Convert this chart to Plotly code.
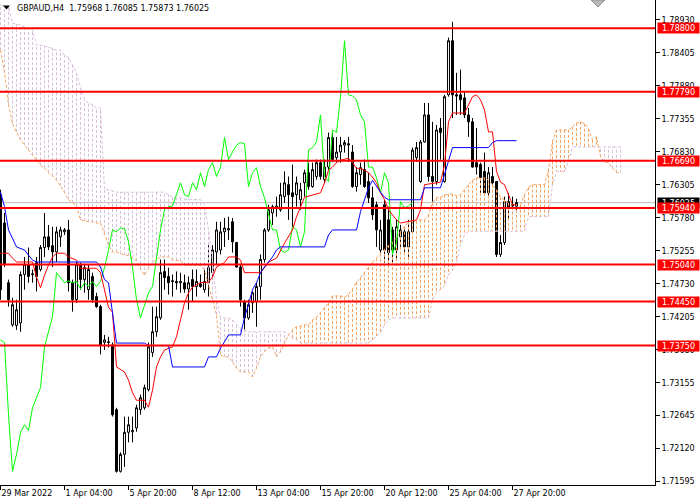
import plotly.graph_objects as go

# GBPAUD H4, bar 0 = 29 Mar 2022 (4 px per bar on the original chart)
opens = [1.7615, 1.7570, 1.7475, 1.7408, 1.7407, 1.7411, 1.7488, 1.7504, 1.7488, 1.7507,
         1.7496, 1.7531, 1.7548, 1.7534, 1.7524, 1.7548, 1.7556, 1.7559, 1.7475, 1.7448,
         1.7504, 1.7480, 1.7464, 1.7485, 1.7453, 1.7437, 1.7380, 1.7381, 1.7376, 1.7273,
         1.7175, 1.7202, 1.7237, 1.7238, 1.7244, 1.7273, 1.7276, 1.7305, 1.7364, 1.7397,
         1.7419, 1.7493, 1.7485, 1.7477, 1.7477, 1.7475, 1.7475, 1.7465, 1.7480, 1.7469,
         1.7473, 1.7464, 1.7475, 1.7491, 1.7524, 1.7527, 1.7556, 1.7559, 1.7572, 1.7539,
         1.7500, 1.7445, 1.7419, 1.7443, 1.7445, 1.7469, 1.7512, 1.7559, 1.7586, 1.7594,
         1.7591, 1.7612, 1.7631, 1.7618, 1.7615, 1.7607, 1.7634, 1.7650, 1.7628, 1.7644,
         1.7666, 1.7639, 1.7659, 1.7706, 1.7674, 1.7683, 1.7694, 1.7694, 1.7683, 1.7628,
         1.7647, 1.7655, 1.7636, 1.7610, 1.7599, 1.7527, 1.7599, 1.7575, 1.7559, 1.7527,
         1.7548, 1.7556, 1.7532, 1.7556, 1.7674, 1.7636, 1.7699, 1.7742, 1.7644, 1.7636,
         1.7721, 1.7636, 1.7774, 1.7860, 1.7774, 1.7774, 1.7769, 1.7742, 1.7731, 1.7666,
         1.7663, 1.7652, 1.7618, 1.7644, 1.7636, 1.7520, 1.7539, 1.7604, 1.7599, 1.75968]
highs = [1.7623, 1.7586, 1.7480, 1.7451, 1.7448, 1.7493, 1.7516, 1.7531, 1.7496, 1.7516,
         1.7535, 1.7586, 1.7567, 1.7564, 1.7564, 1.7564, 1.7562, 1.7575, 1.7480, 1.7508,
         1.7507, 1.7504, 1.7504, 1.7491, 1.7459, 1.7440, 1.7392, 1.7389, 1.7380, 1.7276,
         1.7205, 1.7262, 1.7262, 1.7262, 1.7281, 1.7297, 1.7313, 1.7380, 1.7437, 1.7437,
         1.7512, 1.7512, 1.7499, 1.7488, 1.7493, 1.7491, 1.7488, 1.7485, 1.7496, 1.7496,
         1.7488, 1.7499, 1.7535, 1.7535, 1.7572, 1.7572, 1.7578, 1.7580, 1.7578, 1.7540,
         1.7504, 1.7448, 1.7448, 1.7461, 1.7475, 1.7520, 1.7562, 1.7599, 1.7599, 1.7612,
         1.7634, 1.7652, 1.7644, 1.7663, 1.7644, 1.7634, 1.7655, 1.7666, 1.7666, 1.7671,
         1.7671, 1.7671, 1.7714, 1.7714, 1.7707, 1.7707, 1.7702, 1.7707, 1.7694, 1.7659,
         1.7666, 1.7671, 1.7650, 1.7628, 1.7604, 1.7575, 1.7607, 1.7596, 1.7564, 1.7575,
         1.7567, 1.7564, 1.7575, 1.7690, 1.7699, 1.7702, 1.7761, 1.7761, 1.7731, 1.7726,
         1.7737, 1.7774, 1.7865, 1.7890, 1.7809, 1.7814, 1.7779, 1.7753, 1.7737, 1.7721,
         1.7666, 1.7682, 1.7659, 1.7659, 1.7636, 1.7551, 1.7612, 1.7618, 1.7612, 1.76085]
lows = [1.7448, 1.7500, 1.7437, 1.7405, 1.7400, 1.7397, 1.7464, 1.7475, 1.7475, 1.7461,
        1.7493, 1.7516, 1.7527, 1.7500, 1.7508, 1.7532, 1.7551, 1.7461, 1.7429, 1.7443,
        1.7464, 1.7459, 1.7448, 1.7443, 1.7435, 1.7361, 1.7368, 1.7372, 1.7262, 1.7173,
        1.7173, 1.7182, 1.7221, 1.7221, 1.7238, 1.7265, 1.7273, 1.7302, 1.7357, 1.7389,
        1.7416, 1.7464, 1.7456, 1.7453, 1.7464, 1.7459, 1.7459, 1.7432, 1.7445, 1.7453,
        1.7467, 1.7459, 1.7453, 1.7480, 1.7504, 1.7520, 1.7532, 1.7543, 1.7523, 1.7499,
        1.7437, 1.7397, 1.7416, 1.7427, 1.7405, 1.7448, 1.7507, 1.7556, 1.7567, 1.7580,
        1.7588, 1.7602, 1.7575, 1.7564, 1.7596, 1.7591, 1.7612, 1.7623, 1.7626, 1.7639,
        1.7639, 1.7634, 1.7655, 1.7667, 1.7666, 1.7666, 1.7682, 1.7667, 1.7626, 1.7620,
        1.7631, 1.7626, 1.7602, 1.7575, 1.7532, 1.7523, 1.7507, 1.7504, 1.7507, 1.7512,
        1.7532, 1.7523, 1.7512, 1.7555, 1.7667, 1.7634, 1.7698, 1.7636, 1.7604, 1.7631,
        1.7671, 1.7634, 1.7771, 1.7737, 1.7742, 1.7742, 1.7737, 1.7707, 1.7658, 1.7647,
        1.7618, 1.7615, 1.7610, 1.7631, 1.7516, 1.7516, 1.7535, 1.7578, 1.7594, 1.75873]
closes = [1.7464, 1.7504, 1.7448, 1.7440, 1.7432, 1.7488, 1.7504, 1.7485, 1.7489, 1.7485,
          1.7531, 1.7548, 1.7532, 1.7524, 1.7556, 1.7559, 1.7559, 1.7475, 1.7448, 1.7504,
          1.7480, 1.7499, 1.7496, 1.7448, 1.7437, 1.7376, 1.7384, 1.7380, 1.7265, 1.7175,
          1.7202, 1.7237, 1.7249, 1.7240, 1.7276, 1.7292, 1.7308, 1.7373, 1.7397, 1.7421,
          1.7491, 1.7483, 1.7475, 1.7478, 1.7475, 1.7477, 1.7465, 1.7475, 1.7469, 1.7477,
          1.7469, 1.7477, 1.7499, 1.7527, 1.7559, 1.7556, 1.7562, 1.7561, 1.7540, 1.7500,
          1.7448, 1.7419, 1.7440, 1.7459, 1.7469, 1.7512, 1.7559, 1.7591, 1.7596, 1.7597,
          1.7615, 1.7634, 1.7615, 1.7612, 1.7634, 1.7623, 1.7650, 1.7628, 1.7655, 1.7666,
          1.7644, 1.7659, 1.7706, 1.7671, 1.7683, 1.7694, 1.7698, 1.7696, 1.7628, 1.7650,
          1.7658, 1.7628, 1.7610, 1.7583, 1.7559, 1.7559, 1.7527, 1.7523, 1.7527, 1.7564,
          1.7559, 1.7532, 1.7556, 1.7686, 1.7690, 1.7699, 1.7742, 1.7644, 1.7636, 1.7718,
          1.7714, 1.7771, 1.7860, 1.7774, 1.7772, 1.7766, 1.7742, 1.7731, 1.7659, 1.7659,
          1.7642, 1.7618, 1.7650, 1.7634, 1.7520, 1.7539, 1.7604, 1.7594, 1.7597, 1.76025]

# Ichimoku lines
tenkan_x = [0, 2, 3, 4, 8, 9, 10, 11, 12, 13, 14, 16, 17, 19, 20, 24, 25, 26, 27, 28,
            29, 31, 32, 33, 34, 36, 37, 38, 39, 40, 41, 43, 44, 45, 46, 47, 48, 50, 52, 53,
            54, 56, 57, 59, 60, 61, 65, 67, 69, 71, 72, 73, 74, 75, 76, 80, 81, 82, 83, 84,
            85, 87, 88, 89, 90, 91, 92, 93, 94, 95, 96, 97, 98, 99, 100, 102, 104, 105, 106, 110,
            111, 112, 113, 116, 117, 118, 119, 120, 121, 122, 123, 124, 125, 126, 127, 128, 129]
tenkan_y = [1.7522, 1.7522, 1.7514, 1.7508, 1.7508, 1.7484, 1.7467, 1.7487, 1.7503, 1.7516,
            1.7522, 1.7522, 1.7516, 1.7511, 1.7498, 1.7498, 1.7491, 1.7464, 1.7436, 1.7428,
            1.7341, 1.7333, 1.7320, 1.7300, 1.7288, 1.7288, 1.7277, 1.7304, 1.7341, 1.7357,
            1.7368, 1.7373, 1.7389, 1.7416, 1.7443, 1.7459, 1.7468, 1.7475, 1.7476, 1.7484,
            1.7500, 1.7507, 1.7516, 1.7516, 1.7511, 1.7491, 1.7491, 1.7508, 1.7514, 1.7538,
            1.7548, 1.7559, 1.7580, 1.7596, 1.7611, 1.7618, 1.7634, 1.7654, 1.7659, 1.7666,
            1.7670, 1.7673, 1.7666, 1.7657, 1.7657, 1.7654, 1.7650, 1.7643, 1.7634, 1.7618,
            1.7607, 1.7591, 1.7583, 1.7575, 1.7570, 1.7572, 1.7575, 1.7591, 1.7631, 1.7635,
            1.7662, 1.7731, 1.7745, 1.7745, 1.7758, 1.7771, 1.7774, 1.7766, 1.7750, 1.7715,
            1.7715, 1.7652, 1.7635, 1.7631, 1.7615, 1.7599, 1.7599]
kijun_x = [0, 1, 2, 4, 6, 8, 9, 24, 25, 26, 27, 28, 29, 36, 37, 42, 43, 51, 52, 54,
           55, 56, 57, 60, 61, 62, 63, 64, 65, 66, 67, 68, 69, 70, 81, 82, 83, 89, 90, 91,
           92, 93, 94, 95, 96, 97, 105, 106, 110, 111, 112, 113, 122, 123, 124, 129]
kijun_y = [1.7619, 1.7596, 1.7559, 1.7532, 1.7527, 1.7511, 1.7508, 1.7508, 1.7500, 1.7480,
           1.7475, 1.7424, 1.7379, 1.7379, 1.7375, 1.7375, 1.7341, 1.7341, 1.7357, 1.7357,
           1.7371, 1.7381, 1.7392, 1.7392, 1.7420, 1.7440, 1.7464, 1.7475, 1.7491, 1.7500,
           1.7508, 1.7516, 1.7527, 1.7532, 1.7532, 1.7551, 1.7559, 1.7559, 1.7588, 1.7607,
           1.7626, 1.7638, 1.7628, 1.7619, 1.7611, 1.7607, 1.7607, 1.7626, 1.7626, 1.7647,
           1.7670, 1.7690, 1.7690, 1.7698, 1.7701, 1.7701]

# Senkou span A / B, one value per bar (bars 0..155, cloud runs 26 bars ahead)
span_a = [1.7845, 1.7810, 1.7758, 1.7728, 1.7715, 1.7702, 1.7694, 1.7686, 1.7678, 1.7670,
          1.7662, 1.7657, 1.7650, 1.7645, 1.7638, 1.7629, 1.7618, 1.7607, 1.7602, 1.7597,
          1.7575, 1.7573, 1.7572, 1.7572, 1.7570, 1.7570, 1.7554, 1.7535, 1.7524, 1.7524,
          1.7521, 1.7519, 1.7518, 1.7514, 1.7510, 1.7497, 1.7487, 1.7498, 1.7507, 1.7511,
          1.7516, 1.7516, 1.7516, 1.7511, 1.7511, 1.7510, 1.7503, 1.7503, 1.7503, 1.7503,
          1.7503, 1.7495, 1.7471, 1.7448, 1.7424, 1.7360, 1.7357, 1.7357, 1.7349, 1.7339,
          1.7333, 1.7333, 1.7333, 1.7325, 1.7339, 1.7357, 1.7365, 1.7371, 1.7373, 1.7357,
          1.7365, 1.7379, 1.7392, 1.7400, 1.7405, 1.7406, 1.7408, 1.7408, 1.7416, 1.7420,
          1.7428, 1.7436, 1.7443, 1.7454, 1.7454, 1.7454, 1.7452, 1.7456, 1.7465, 1.7476,
          1.7483, 1.7491, 1.7500, 1.7508, 1.7514, 1.7521, 1.7529, 1.7535, 1.7540, 1.7546,
          1.7556, 1.7564, 1.7572, 1.7573, 1.7573, 1.7575, 1.7575, 1.7583, 1.7602, 1.7610,
          1.7611, 1.7615, 1.7616, 1.7616, 1.7613, 1.7615, 1.7623, 1.7631, 1.7638, 1.7642,
          1.7642, 1.7642, 1.7638, 1.7631, 1.7623, 1.7611, 1.7607, 1.7602, 1.7596, 1.7591,
          1.7599, 1.7615, 1.7627, 1.7631, 1.7631, 1.7631, 1.7631, 1.7654, 1.7700, 1.7718,
          1.7718, 1.7718, 1.7718, 1.7723, 1.7729, 1.7731, 1.7728, 1.7720, 1.7702, 1.7707,
          1.7675, 1.7667, 1.7666, 1.7657, 1.7650, 1.7650]
span_b = [1.7917, 1.7915, 1.7914, 1.7888, 1.7887, 1.7885, 1.7882, 1.7880, 1.7877, 1.7853,
          1.7853, 1.7852, 1.7850, 1.7848, 1.7845, 1.7845, 1.7837, 1.7833, 1.7821, 1.7809,
          1.7785, 1.7766, 1.7761, 1.7758, 1.7753, 1.7753, 1.7623, 1.7623, 1.7621, 1.7619,
          1.7619, 1.7619, 1.7619, 1.7619, 1.7619, 1.7619, 1.7619, 1.7619, 1.7619, 1.7619,
          1.7619, 1.7619, 1.7615, 1.7611, 1.7610, 1.7610, 1.7608, 1.7608, 1.7607, 1.7607,
          1.7607, 1.7599, 1.7559, 1.7511, 1.7448, 1.7419, 1.7419, 1.7419, 1.7416, 1.7408,
          1.7403, 1.7400, 1.7397, 1.7397, 1.7397, 1.7397, 1.7397, 1.7397, 1.7397, 1.7397,
          1.7397, 1.7397, 1.7392, 1.7387, 1.7384, 1.7379, 1.7379, 1.7379, 1.7379, 1.7379,
          1.7379, 1.7379, 1.7379, 1.7379, 1.7379, 1.7379, 1.7379, 1.7379, 1.7379, 1.7379,
          1.7379, 1.7379, 1.7379, 1.7384, 1.7389, 1.7395, 1.7408, 1.7416, 1.7419, 1.7419,
          1.7419, 1.7419, 1.7419, 1.7419, 1.7419, 1.7419, 1.7419, 1.7419, 1.7448, 1.7460,
          1.7464, 1.7470, 1.7487, 1.7495, 1.7508, 1.7535, 1.7551, 1.7557, 1.7557, 1.7557,
          1.7557, 1.7557, 1.7557, 1.7557, 1.7557, 1.7557, 1.7557, 1.7557, 1.7557, 1.7557,
          1.7557, 1.7557, 1.7580, 1.7580, 1.7580, 1.7580, 1.7580, 1.7580, 1.7631, 1.7652,
          1.7652, 1.7652, 1.7669, 1.7691, 1.7691, 1.7691, 1.7691, 1.7691, 1.7691, 1.7691,
          1.7691, 1.7691, 1.7691, 1.7691, 1.7691, 1.7691]
chikou_shift = 26

levels = [1.78800, 1.77790, 1.76690, 1.75940, 1.75040, 1.74450, 1.73750]
bid = 1.76025
ytick_vals = [1.78930, 1.78405, 1.77880, 1.77355, 1.76830, 1.76305, 1.75780, 1.75255,
              1.74730, 1.74205, 1.73680, 1.73155, 1.72645, 1.72120, 1.71595]
xtick_pos = [0, 16, 32, 48, 64, 80, 96, 112, 128]
xtick_text = ["29 Mar 2022", "1 Apr 04:00", "5 Apr 20:00", "8 Apr 12:00", "13 Apr 04:00",
              "15 Apr 20:00", "20 Apr 12:00", "25 Apr 04:00", "27 Apr 20:00"]
header = "GBPAUD,H4  1.75968 1.76085 1.75873 1.76025"

FONT = "DejaVu Sans"
W_PLOT, H_PLOT = 655, 485

fig = go.Figure()

# cloud hatching: dotted vertical strokes between span A and span B on every bar
up_x, up_y, dn_x, dn_y = [], [], [], []
for j, (a, b) in enumerate(zip(span_a, span_b)):
    if a >= b:
        up_x += [j, j, None]
        up_y += [a, b, None]
    else:
        dn_x += [j, j, None]
        dn_y += [a, b, None]
fig.add_trace(go.Scatter(x=up_x, y=up_y, mode="lines", hoverinfo="skip",
                         line=dict(color="#F4A460", width=1, dash="3px,2px")))
fig.add_trace(go.Scatter(x=dn_x, y=dn_y, mode="lines", hoverinfo="skip",
                         line=dict(color="#D8BFD8", width=1, dash="3px,2px")))
bars = list(range(len(span_a)))
fig.add_trace(go.Scatter(x=bars, y=span_b, mode="lines", hoverinfo="skip",
                         line=dict(color="#D8BFD8", width=1, dash="3px,2px")))
fig.add_trace(go.Scatter(x=bars, y=span_a, mode="lines", hoverinfo="skip",
                         line=dict(color="#F4A460", width=1, dash="3px,2px")))

fig.add_shape(type="line", xref="paper", x0=0, x1=1, yref="y", y0=bid, y1=bid,
              line=dict(color="#C0C0C0", width=1), layer="below")

fig.add_trace(go.Candlestick(
    x=list(range(len(opens))), open=opens, high=highs, low=lows, close=closes,
    increasing=dict(line=dict(color="black", width=1), fillcolor="white"),
    decreasing=dict(line=dict(color="black", width=1), fillcolor="black"),
    whiskerwidth=0, hoverinfo="skip"))

ch = closes[chikou_shift:]
fig.add_trace(go.Scatter(x=list(range(len(ch))), y=ch, mode="lines", hoverinfo="skip",
                         line=dict(color="#00FF00", width=1)))
fig.add_trace(go.Scatter(x=tenkan_x, y=tenkan_y, mode="lines", hoverinfo="skip",
                         line=dict(color="#FF0000", width=1)))
fig.add_trace(go.Scatter(x=kijun_x, y=kijun_y, mode="lines", hoverinfo="skip",
                         line=dict(color="#0000FF", width=1)))

for lv in levels:
    fig.add_shape(type="line", xref="paper", x0=0, x1=1, yref="y", y0=lv, y1=lv,
                  line=dict(color="#FF0000", width=2), layer="above")

# price boxes on the scale
box_x = 1 + 2 / W_PLOT
fig.add_annotation(xref="paper", x=box_x, xanchor="left", yref="y", y=bid, yanchor="middle",
                   text=f"{bid:.5f}", showarrow=False, bgcolor="black", width=41, height=10,
                   borderpad=0, align="center", font=dict(family=FONT, size=8, color="white"))
for lv in levels:
    fig.add_annotation(xref="paper", x=box_x, xanchor="left", yref="y", y=lv, yanchor="middle",
                       text=f"{lv:.5f}", showarrow=False, bgcolor="#FF0000", width=41, height=10,
                       borderpad=0, align="center", font=dict(family=FONT, size=8, color="white"))

fig.add_annotation(xref="paper", x=15 / W_PLOT, xanchor="left", yref="paper", y=1 - 8 / H_PLOT,
                   yanchor="middle", text=header, showarrow=False,
                   font=dict(family=FONT, size=8, color="black"))


def px_path(pts):
    s = " L ".join(f"{x / W_PLOT:.5f} {1 - y / H_PLOT:.5f}" for x, y in pts)
    return "M " + s + " Z"


fig.add_shape(type="path", xref="paper", yref="paper",
              path=px_path([(3, 5.5), (10, 5.5), (6.5, 9.5)]),
              fillcolor="black", line=dict(width=0))
fig.add_shape(type="path", xref="paper", yref="paper",
              path=px_path([(591, 0), (605, 0), (598, 7)]),
              fillcolor="#B8B8B8", line=dict(color="#909090", width=1))

fig.update_layout(
    width=700, height=500,
    margin=dict(l=0, r=45, t=0, b=15),
    paper_bgcolor="white", plot_bgcolor="white",
    showlegend=False,
    font=dict(family=FONT, size=8, color="black"),
    xaxis=dict(range=[-0.125, 163.625], tickvals=xtick_pos, ticktext=xtick_text,
               ticks="outside", ticklen=4, tickcolor="black", showline=True,
               linecolor="black", linewidth=1, showgrid=False, zeroline=False,
               ticklabelposition="outside right", rangeslider=dict(visible=False),
               tickfont=dict(family=FONT, size=8, color="black")),
    yaxis=dict(range=[1.71532, 1.79248], side="right", tickvals=ytick_vals,
               ticktext=[f"{v:.5f}" for v in ytick_vals], ticks="outside", ticklen=4,
               tickcolor="black", showline=True, linecolor="black", linewidth=1,
               showgrid=False, zeroline=False,
               tickfont=dict(family=FONT, size=8, color="black")),
)

# the page body has a default 8px margin; drop it so the figure sits at the window corner
fig.write_html("out.html", config={"displayModeBar": False},
               post_script="document.body.style.margin='0px';")
